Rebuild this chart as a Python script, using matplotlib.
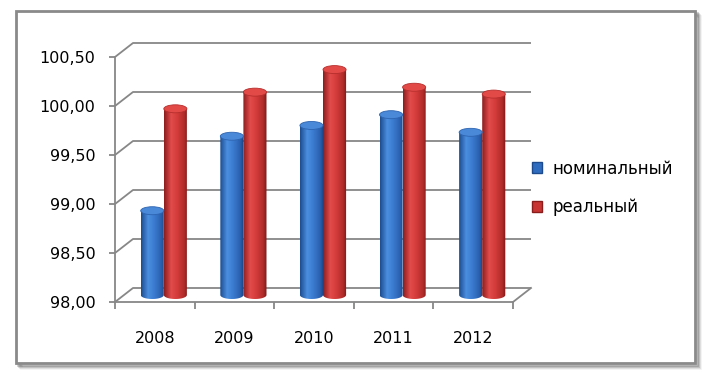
import matplotlib.pyplot as plt
import numpy as np
from matplotlib.colors import LinearSegmentedColormap
from matplotlib.patches import Ellipse, Patch, PathPatch, Rectangle
from matplotlib.path import Path

years = ["2008", "2009", "2010", "2011", "2012"]
nominal = [98.86, 99.62, 99.73, 99.84, 99.66]
real = [99.90, 100.07, 100.30, 100.12, 100.05]
series_names = ["номинальный", "реальный"]
y_ticks = [98.0, 98.5, 99.0, 99.5, 100.0, 100.5]

W, H = 711, 375
fig = plt.figure(figsize=(W / 100, H / 100), dpi=100)
plt.rcParams["font.family"] = ["DejaVu Sans"]

# front plane of the pseudo-3d plot area, in pixels
left, right, bottom, top = 115, 513, 302, 57
ax = fig.add_axes([left / W, 1 - bottom / H, (right - left) / W, (bottom - top) / H])
ax.set_xlim(-0.5, len(years) - 0.5)
ax.set_ylim(y_ticks[0], y_ticks[-1])
ax.patch.set_visible(False)

# depth of the "3d" box, converted from pixels to data units
px_x = (right - left) / len(years)
px_y = (bottom - top) / (y_ticks[-1] - y_ticks[0])
DX = 18 / px_x
DY = 14 / px_y

grid_c = "#878787"
x0, x1 = -0.5, len(years) - 0.5
for v in y_ticks:
    ax.plot([x0, x0 + DX, x1 + DX], [v, v + DY, v + DY], color=grid_c, lw=1.3,
            clip_on=False, zorder=1, solid_capstyle="butt")
ax.plot([x1, x1 + DX], [y_ticks[0], y_ticks[0] + DY], color=grid_c, lw=1.3,
        clip_on=False, zorder=1)

for s in ["top", "right"]:
    ax.spines[s].set_visible(False)
for s in ["left", "bottom"]:
    ax.spines[s].set_color(grid_c)
    ax.spines[s].set_linewidth(1.3)
    ax.spines[s].set_zorder(1)

ax.set_yticks(y_ticks)
ax.set_yticklabels([f"{v:.2f}".replace(".", ",") for v in y_ticks], fontsize=11.5)
ax.tick_params(axis="y", length=4, width=1.3, color=grid_c, pad=10)
ax.set_xticks(range(len(years)))
ax.set_xticklabels(years, fontsize=11.5)
ax.set_xticks(np.arange(len(years) + 1) - 0.5, minor=True)
ax.tick_params(axis="x", which="major", length=0, pad=21)
ax.tick_params(axis="x", which="minor", length=5, width=1.3, color=grid_c)

blue_cmap = LinearSegmentedColormap.from_list(
    "b", [(0, "#1d4d90"), (0.3, "#4b8fe0"), (0.55, "#3b7bd0"), (0.85, "#2a60ae"), (1, "#1a4280")])
red_cmap = LinearSegmentedColormap.from_list(
    "r", [(0, "#8c1e1e"), (0.3, "#e24c4a"), (0.55, "#d33c3a"), (0.85, "#b02c2a"), (1, "#7a1818")])
grad = np.linspace(0, 1, 64).reshape(1, -1)

bar_w = 0.29
eh = 8 / px_y
base = y_ticks[0] + DY / 2


def cylinder(cx, val, cmap, top_c, edge_c):
    xa, xb = cx - bar_w / 2, cx + bar_w / 2
    ytop = val + DY / 2
    t = np.linspace(np.pi, 2 * np.pi, 30)
    arc_x = cx + bar_w / 2 * np.cos(t)
    arc_y = base + eh / 2 * np.sin(t)
    verts = [(xa, ytop)] + list(zip(arc_x, arc_y)) + [(xb, ytop), (xa, ytop)]
    path = Path(verts, [Path.MOVETO] + [Path.LINETO] * (len(verts) - 2) + [Path.CLOSEPOLY])
    clip = PathPatch(path, facecolor="none", edgecolor="none", transform=ax.transData)
    ax.add_patch(clip)
    im = ax.imshow(grad, cmap=cmap, extent=[xa, xb, base - eh, ytop], aspect="auto",
                   zorder=3, interpolation="bilinear")
    im.set_clip_path(clip)
    ax.add_patch(Ellipse((cx, ytop), bar_w, eh, facecolor=top_c, edgecolor=edge_c,
                         lw=0.6, zorder=4))


for i in range(len(years)):
    c = i + DX / 2
    cylinder(c - bar_w / 2, nominal[i], blue_cmap, "#4a88d8", "#2d64b0")
    cylinder(c + bar_w / 2, real[i], red_cmap, "#e24a48", "#b52e2c")

ax.set_xlim(-0.5, len(years) - 0.5)
ax.set_ylim(y_ticks[0], y_ticks[-1])

handles = [Patch(facecolor="#2f6cc0", edgecolor="#1d4a8c", label=series_names[0]),
           Patch(facecolor="#c83432", edgecolor="#8a1c1c", label=series_names[1])]
fig.legend(handles=handles, loc="center left", bbox_to_anchor=(517 / W, 1 - 188 / H),
           frameon=False, fontsize=12, handlelength=0.6, handleheight=0.6,
           handletextpad=0.6, labelspacing=1.25)

# chart frame with soft shadow
for k, a in [(5, 0.05), (4, 0.09), (3, 0.14), (2, 0.2)]:
    fig.patches.append(Rectangle(((16 + k) / W, (H - 363 - k) / H), 679 / W, 352 / H,
                                 transform=fig.transFigure, facecolor="none",
                                 edgecolor=(0, 0, 0, a), lw=2, zorder=-2))
fig.patches.append(Rectangle((16 / W, (H - 363) / H), 679 / W, 352 / H,
                             transform=fig.transFigure, facecolor="white",
                             edgecolor="#8a8a8a", lw=2, zorder=-1))

fig.savefig("out.png", dpi=100)
